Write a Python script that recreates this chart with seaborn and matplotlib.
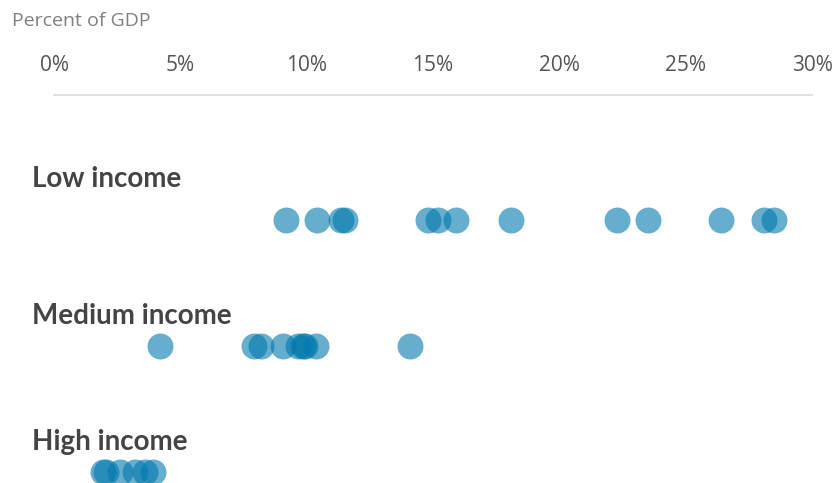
"""
Dot strip chart: spending as percent of GDP by income group.
"""

import matplotlib

matplotlib.use("Agg")
import matplotlib.pyplot as plt
import matplotlib.ticker as mticker
import pandas as pd
import seaborn as sns

# Data
groups = ["Low income", "Medium income", "High income"]
low_income = [9.2, 10.4, 11.35, 11.5, 14.8, 15.2, 15.9, 18.1, 22.3, 23.5, 26.4, 28.1, 28.5]
medium_income = [4.2, 7.9, 8.2, 9.05, 9.65, 9.85, 9.95, 10.35, 14.1]
high_income = [1.95, 2.05, 2.6, 3.2, 3.6, 3.9]
x_ticks = [0, 5, 10, 15, 20, 25, 30]

df = pd.DataFrame(
    {
        "group": [groups[0]] * len(low_income)
        + [groups[1]] * len(medium_income)
        + [groups[2]] * len(high_income),
        "value": low_income + medium_income + high_income,
    }
)

sns.set_style("white")
plt.rcParams["font.family"] = ["Lato", "DejaVu Sans"]

W, H, DPI = 838, 483, 100
fig = plt.figure(figsize=(W / DPI, H / DPI), dpi=DPI)
ax = fig.add_axes([54 / W, 0, 758 / W, (483 - 95) / H])

sns.stripplot(
    data=df,
    x="value",
    y="group",
    order=groups,
    jitter=False,
    size=18.7,
    color="#0078ad",
    alpha=0.6,
    linewidth=0,
    orient="h",
    ax=ax,
    clip_on=False,
)

ax.set_xlim(0, 30)
ax.set_ylim(2.087, -0.992)
ax.set_xticks(x_ticks)
ax.xaxis.set_major_formatter(mticker.FuncFormatter(lambda v, _: f"{v:.0f}%"))
ax.xaxis.tick_top()
ax.tick_params(axis="x", length=0, pad=14, labelsize=15, labelcolor="#555555")
for lbl in ax.get_xticklabels():
    lbl.set_family(["Open Sans", "DejaVu Sans"])
ax.set_yticks([])
ax.set_xlabel("")
ax.set_ylabel("")

for side in ["left", "right", "bottom"]:
    ax.spines[side].set_visible(False)
ax.spines["top"].set_color("#dddddd")
ax.spines["top"].set_linewidth(1.3)

# Group labels above each row
label_offsets = [41, 30, 30]  # pixels above row
for i, (name, off) in enumerate(zip(groups, label_offsets)):
    ax.annotate(
        name,
        xy=(32 / W, i),
        xycoords=("figure fraction", "data"),
        xytext=(0, off * 72 / DPI),
        textcoords="offset points",
        ha="left",
        va="center",
        fontsize=20,
        fontweight="bold",
        color="#444444",
        annotation_clip=False,
    )

fig.text(
    12 / W,
    1 - 21 / H,
    "Percent of GDP",
    fontsize=14,
    color="#808080",
    ha="left",
    va="center",
    family=["Open Sans", "DejaVu Sans"],
)

fig.savefig("out.png", dpi=DPI)
